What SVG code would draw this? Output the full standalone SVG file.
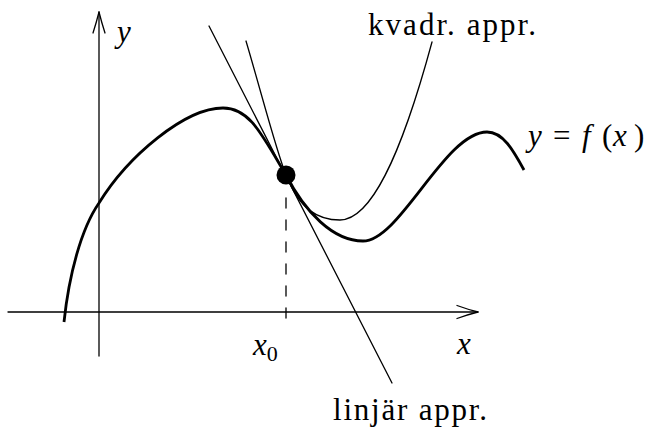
<svg xmlns="http://www.w3.org/2000/svg" width="648" height="427" viewBox="0 0 648 427">
  <style>
    .thin { fill: none; stroke: #000; stroke-width: 1.3; stroke-linecap: round; stroke-linejoin: round; }
    .thick { fill: none; stroke: #000; stroke-width: 2.8; stroke-linecap: butt; stroke-linejoin: round; }
    .lbl { font-family: "Liberation Serif", "Times New Roman", serif; font-size: 31px; fill: #000; }
    .it { font-style: italic; }
  </style>
  <rect width="648" height="427" fill="#fff"/>
  <g id="connectors">
    <g id="x-axis">
      <line class="thin" x1="8" y1="312" x2="478" y2="312"/>
      <path class="thin" d="M457,305.5 Q468,309.5 478,312 Q468,314.5 457,318.5"/>
    </g>
    <g id="y-axis">
      <line class="thin" x1="99" y1="356" x2="99" y2="12"/>
      <path class="thin" d="M93,33 Q96.5,22 99,12 Q101.5,22 105,33"/>
    </g>
    <line id="dashed" class="thin" x1="286" y1="318" x2="286" y2="192" stroke-dasharray="10 12" stroke-linecap="butt"/>
    <line id="linear-approx" class="thin" x1="209" y1="26" x2="392" y2="383"/>
    <path id="quad-approx" class="thin" d="M246,41 C262,95 276,150 286,175 C300,210 318,220 340,220 C370,220 400,160 432,42"/>
    <path id="f-curve" class="thick" d="M64,322 C69,275 81,229 99,203 C128,156 185,108 223,108 C250,108 262,135 286,175 C305,212 333,241 363,241 C400,241 445,132 487,132 C503,132 513,150 524,170"/>
  </g>
  <g id="point">
    <circle cx="286" cy="175" r="9.5" fill="#000"/>
  </g>
  <g id="labels">
    <text id="label-y" class="lbl it" x="117" y="42">y</text>
    <text id="label-x" class="lbl it" x="457" y="354">x</text>
    <text id="label-x0" class="lbl" x="253" y="355"><tspan class="it">x</tspan><tspan font-size="22" dy="6">0</tspan></text>
    <g id="label-f">
      <text class="lbl it" x="528" y="146">y</text>
      <text class="lbl" x="553" y="146">=</text>
      <text class="lbl it" x="582" y="146">f</text>
      <text class="lbl" x="602" y="146">(</text>
      <text class="lbl it" x="613" y="146">x</text>
      <text class="lbl" x="634" y="146">)</text>
    </g>
    <text id="label-kvadr" class="lbl" x="368" y="35" textLength="168" lengthAdjust="spacing">kvadr.  appr.</text>
    <text id="label-linjar" class="lbl" x="333" y="420" textLength="154" lengthAdjust="spacing">linjär appr.</text>
  </g>
</svg>
